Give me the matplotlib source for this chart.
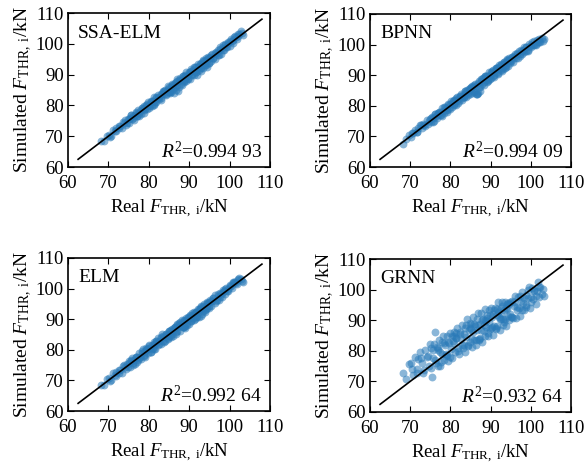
import numpy as np
import matplotlib
matplotlib.use('Agg')
import matplotlib.pyplot as plt

plt.rcParams['font.family'] = ['Liberation Serif', 'DejaVu Serif']
plt.rcParams['mathtext.fontset'] = 'custom'
plt.rcParams['mathtext.rm'] = 'Liberation Serif'
plt.rcParams['mathtext.it'] = 'Liberation Serif:italic'

# measured thrust (kN), shared test set
real_thrust = [
    68.1, 68.9, 69.6, 70.2, 70.7, 71.1, 71.6, 72.0, 72.5, 72.9, 73.3, 73.8, 74.2, 74.6, 74.9,
    75.2, 75.4, 75.7, 75.9, 76.1, 76.4, 76.6, 76.8, 77.1, 77.3, 77.5, 77.8, 78.0, 78.2, 78.5,
    78.7, 78.9, 79.1, 79.4, 79.6, 79.8, 80.1, 80.3, 80.5, 80.8, 81.0, 81.2, 81.5, 81.7, 81.9,
    82.2, 82.4, 82.6, 82.9, 83.1, 83.3, 83.6, 83.8, 84.0, 84.2, 84.5, 84.7, 84.9,
    85.1, 85.3, 85.5, 85.7, 85.9, 86.1, 86.3, 86.5, 86.7, 86.9, 87.1, 87.3, 87.5, 87.7, 87.9,
    88.1, 88.3, 88.5, 88.7, 88.9, 89.1, 89.3, 89.5, 89.7, 89.9, 90.1, 90.3, 90.5, 90.7, 90.9,
    91.1, 91.3, 91.5, 91.7, 91.9, 92.1, 92.3, 92.5, 92.7, 92.9, 93.1, 93.3, 93.5, 93.7, 93.9,
    94.1, 94.3, 94.5, 94.7, 94.9,
    95.2, 95.5, 95.7, 96.0, 96.3, 96.5, 96.8, 97.1, 97.3, 97.6, 97.9, 98.1, 98.4, 98.7, 98.9,
    99.2, 99.5, 99.7, 100.0, 100.3, 100.6, 100.9, 101.2, 101.5, 101.8, 102.1, 102.4, 102.7,
    103.0, 103.2,
    70.5, 71.8, 72.7, 73.5, 74.4, 75.1, 75.6, 76.2, 76.9, 77.6,
    78.3, 78.8, 79.5, 80.0, 80.6, 81.3, 81.8, 82.5, 83.0, 83.7,
    84.3, 84.8, 85.4, 85.8, 86.4, 86.8, 87.4, 87.8, 88.4, 88.8,
    89.4, 89.8, 90.4, 90.8, 91.4, 91.8, 92.4, 92.8, 93.4, 93.8,
    94.4, 94.8, 95.4, 95.9, 96.6, 97.2, 97.7, 98.3, 98.8, 99.4,
    100.1, 100.8, 101.4, 102.0, 77.0, 79.2, 81.4, 83.4, 85.2, 87.0,
    88.6, 90.2, 91.6, 93.0, 94.2, 95.0, 80.9, 84.9, 89.0, 92.6]

# prediction error (simulated - real) of each model, kN
err_ssa_elm = [
    0.3, -0.4, 0.6, 0.2, -0.5, 0.8, 0.1, -0.3, 0.9, 0.4, -0.6, 0.5, 1.0, -0.2, 0.7,
    -0.8, 0.4, 1.1, -0.3, 0.6, -1.0, 0.2, 0.9, -0.5, 1.3, -0.1, 0.5, -0.9, 0.8, 0.3,
    -1.2, 1.0, -0.4, 0.6, -0.7, 1.2, 0.1, -0.6, 0.9, -1.1, 0.4, 1.4, -0.3, 0.7, -0.9,
    0.2, 1.1, -0.5, 0.8, -1.3, 0.5, 1.2, -0.2, 0.9, -0.8, 0.3, 1.5, -0.6,
    1.0, -1.4, 0.4, 1.3, -0.7, 0.6, -2.2, 0.9, -1.8, 1.6, -0.4, -2.5, 0.7, 1.2, -1.0,
    0.3, -1.6, 1.1, -0.5, 0.8, -1.2, 1.4, 0.2, -0.9, 1.0, -1.5, 0.5, 1.3, -0.8, 0.6,
    -1.3, 1.1, -0.3, 0.9, -1.9, 0.4, 1.2, -1.1, 0.7, -1.6, 0.3, 1.0, -1.4, 0.6, -0.8,
    1.3, -1.7, 0.2, 0.9, -1.0,
    0.5, -1.2, 1.1, -0.6, 0.8, -1.4, 0.3, 1.0, -0.9, 0.6, -1.1, 0.4, 1.2, -0.7, 0.9,
    -0.3, 1.1, 0.5, -0.8, 1.3, 0.2, -0.6, 1.0, 0.7, -0.4, 1.2, 0.8, 1.5, 0.6, -0.5,
    -0.6, 0.8, -0.2, 1.0, -0.9, 0.5, 1.2, -0.4, 0.7, -1.0,
    0.9, -0.3, 1.1, -0.8, 0.4, -1.1, 0.8, 0.2, -0.7, 1.0,
    -0.5, 0.6, -1.2, 0.9, -0.3, 0.7, -1.3, 0.5, 1.1, -0.9,
    0.3, -1.2, 0.8, -0.6, 1.0, -1.0, 0.4, -0.8, 1.2, -0.4,
    0.7, -1.1, 0.9, -0.5, 0.6, -0.9, 1.1, -0.2, 0.8, -0.6,
    0.9, 0.4, 1.0, 0.6, -0.5, 0.7, -0.9, 1.0, -0.4, 0.8,
    -1.1, 0.6, -0.7, 0.9, -1.2, 0.3, 0.5, -0.7, 1.0, -0.3]

err_bpnn = [
    -0.6, 0.2, 0.7, -0.3, 0.5, 1.0, -0.2, 0.6, 1.1, 0.0, 0.8, -0.4, 1.2, 0.3, 0.9,
    -0.5, 1.1, 0.4, -0.9, 1.3, 0.2, -0.6, 0.8, 1.0, -0.3, 0.6, -1.0, 1.2, 0.1, -0.7,
    0.9, 0.4, -1.2, 1.1, -0.2, 0.7, 1.4, -0.8, 0.3, 1.0, -0.5, 0.8, -1.1, 1.3, 0.2,
    -0.6, 0.9, 1.1, -0.9, 0.5, -0.3, 1.2, -1.0, 0.6, 1.0, -0.4, 0.8, -1.2,
    0.7, 1.1, -0.8, 0.4, -1.3, 1.0, 0.2, -2.6, -3.0, -2.8, 0.9, -1.1, 1.3, 0.3, -0.7,
    1.0, -1.4, 0.6, 1.2, -0.5, 0.8, -1.0, 1.4, 0.1, -1.2, 0.9, 0.5, -0.8, 1.1, -1.5,
    0.4, 1.0, -0.6, 0.7, -1.3, 1.2, 0.2, -0.9, 0.8, -1.6, 0.5, 1.1, -1.0, 0.3, -0.7,
    0.9, -1.4, 0.6, 1.0, -0.4,
    0.8, -1.1, 0.5, 1.0, -0.6, 0.3, -1.2, 0.9, -0.4, 0.6, -1.0, 0.2, 0.8, -0.7, 0.4,
    -1.3, 0.6, -0.2, -0.9, 0.5, -0.6, 0.3, -1.1, 0.1, -0.8, -0.3, -1.4, -0.6, -1.8, -1.5,
    0.7, -0.5, 1.0, 0.3, -0.4, 0.9, -0.8, 1.1, 0.2, -0.6,
    1.2, -0.2, 0.8, -0.9, 1.0, 0.4, -1.0, 0.7, -0.3, 1.1,
    -0.7, 0.5, -1.1, 0.9, -2.4, 0.6, -2.7, 1.0, -0.5, 0.8,
    -1.2, 0.4, 0.9, -0.8, 1.1, -1.3, 0.6, -0.4, 0.9, -1.1,
    0.5, -0.9, 0.7, -0.4, 0.8, -1.0, 0.3, -0.7, 0.5, -1.2,
    -0.3, -0.9, -1.4, -1.0, 0.8, -0.6, 1.1, -0.4, 0.9, -0.7,
    1.0, -1.1, 0.6, -0.9, 1.2, -0.5, -0.6, 1.0, -1.2, 0.7]

err_elm = [
    0.4, -0.3, 0.9, 0.5, -0.6, 1.2, 0.2, -0.4, 1.0, 0.6, -0.8, 1.3, 0.1, 0.8, -0.5,
    1.1, -0.9, 0.6, 1.4, -0.4, 0.3, -1.2, 1.0, 0.5, -0.7, 1.3, 0.0, -1.0, 0.8, 1.6,
    -0.5, 0.4, -1.3, 1.1, 0.7, -0.8, 1.5, 0.2, -1.1, 0.9, -0.3, 1.2, -1.4, 0.6, 1.0,
    -0.6, 1.4, 0.3, -1.0, 0.8, 1.7, -0.7, 0.5, -1.2, 1.1, 0.2, -0.9, 1.3,
    -0.5, 0.9, -1.3, 1.2, 0.4, -1.6, 0.7, 1.0, -0.8, 1.4, -1.1, 0.3, 1.1, -1.5, 0.6,
    -0.4, 1.3, -1.0, 0.8, -1.8, 0.5, 1.2, -0.7, 0.9, -1.4, 0.2, 1.0, -1.2, 0.7, -0.5,
    1.3, -1.6, 0.4, 0.8, -1.1, 1.1, -0.3, -1.7, 0.6, 1.0, -1.3, 0.5, -0.8, 1.2, -1.5,
    0.3, 0.9, -1.0, 0.6, -0.6,
    1.0, -1.2, 0.4, 0.8, -0.9, 1.3, -0.5, 0.6, -1.1, 0.9, 0.2, -0.8, 1.1, 0.5, -0.6,
    1.0, 0.3, -0.4, 1.2, 0.7, -0.3, 0.9, 1.1, 0.4, -0.2, 0.8, 1.0, 0.5, -0.4, -0.9,
    -0.7, 1.0, -0.2, 1.3, -0.8, 0.6, 1.1, -1.1, 0.9, -0.4,
    1.4, -0.9, 0.7, 1.2, -1.2, 0.5, 1.0, -0.6, 1.3, -1.0,
    0.8, -1.3, 1.1, -0.5, 0.9, -1.5, 0.6, 1.2, -0.8, 1.0,
    -1.4, 0.7, -0.9, 1.1, -1.2, 0.4, 1.0, -1.6, 0.8, -0.7,
    1.2, -1.1, 0.5, 0.9, -0.8, 1.1, -0.5, 0.7, 1.0, -0.3,
    0.8, 1.2, 0.6, 1.0, -1.0, 0.8, -1.2, 1.0, -0.6, 1.1,
    -1.3, 0.7, -0.9, 1.2, -1.0, 0.5, -0.8, 1.3, -1.1, 0.6]

err_grnn = [
    4.5, 2.0, 6.0, 5.8, 1.5, 6.9, 2.3, 5.2, 7.0, 3.2, -0.5, 6.4, 3.9, 0.5, 7.2,
    5.6, -3.8, 2.1, 6.2, 10.0, -0.4, 4.5, -1.8, 6.3, 2.4, -2.4, 5.0, 1.0, 6.8, -1.5,
    3.3, -0.6, 5.9, -2.6, 2.8, 6.1, 0.4, 4.4, -3.0, 1.9, 5.2, -1.7, 2.6, 5.8, -0.9,
    -3.4, 3.9, 1.3, 5.5, -2.2, 2.2, -4.0, 4.6, 0.5, 6.2, -2.8, 2.0, 4.3,
    3.6, -3.9, 0.8, 5.3, -2.5, 1.9, -4.4, 3.9, 0.2, 5.6, -3.2, 1.4, -0.6, 4.6, -4.9,
    2.3, 0.0, -3.7, 4.8, -1.1, 1.7, -4.5, 3.7, -0.4, -2.9, 3.9, 0.6, -5.2, 1.2, -2.7,
    2.9, -4.1, 0.3, -3.5, 4.2, -0.9, -5.4, 1.5, -2.4, 3.2, -4.6, 0.1, -3.2, 2.4, -5.8,
    -0.6, 1.4, -4.3, 0.7, -2.9,
    1.2, -4.8, -1.0, 2.0, -5.5, -2.1, 0.8, -3.2, -6.0, -1.3, 1.4, -2.6, -5.1, -0.5, -4.5,
    -1.8, 1.5, -5.6, -2.4, 0.3, -3.8, -1.1, -6.0, -2.0, 0.7, -4.4, -1.5, -4.0, -2.8, -5.4,
    3.5, 1.0, 4.8, 0.2, 3.9, -0.8, 4.6, 0.9, 3.2, -1.4,
    4.2, 0.0, 3.5, -2.0, 2.6, 4.4, -1.8, 2.9, -1.0, 3.6,
    -2.3, 2.5, -1.6, 3.0, -2.8, 1.6, -3.2, 2.2, -1.9, 1.0,
    -3.6, 1.8, -2.6, 2.6, -3.8, 0.8, -2.0, 1.9, -4.0, 0.3,
    -3.0, 1.1, -4.2, 0.0, -3.4, 0.6, -4.5, -1.0, -3.9, 0.4,
    -4.0, -1.4, -3.6, -1.0, 3.9, -0.6, 2.8, -1.5, 2.0, -3.4,
    1.5, -2.6, 2.0, -2.6, 1.0, -3.8, 4.0, -2.0, 2.6, -0.2]

model_names = ['SSA-ELM', 'BPNN', 'ELM', 'GRNN']
r2_labels = ['0.994 93', '0.994 09', '0.992 64', '0.932 64']
model_errors = [err_ssa_elm, err_bpnn, err_elm, err_grnn]

diag = [62.5, 108.0]
ticks = [60, 70, 80, 90, 100, 110]

# axes boxes in pixels: left, top, right, bottom
boxes = [(68, 13, 270, 167), (370, 14, 571, 167),
         (68, 258, 270, 411), (370, 259, 571, 412)]

W, H = 587, 466
fig = plt.figure(figsize=(W / 100, H / 100), dpi=100)

real = np.array(real_thrust)
for name, r2, err, (l, t, r, b) in zip(model_names, r2_labels, model_errors, boxes):
    ax = fig.add_axes([l / W, 1 - b / H, (r - l) / W, (b - t) / H])
    sim = real + np.array(err)
    ax.scatter(real, sim, s=32, color='#2a7ab8', alpha=0.55, linewidths=0, zorder=2)
    ax.plot(diag, diag, color='black', lw=1.2, zorder=3)

    ax.set_xlim(60, 110)
    ax.set_ylim(60, 110)
    ax.set_xticks(ticks)
    ax.set_yticks(ticks)
    ax.tick_params(direction='in', top=True, right=True, length=4, width=0.8,
                   labelsize=13.5)
    ax.tick_params(axis='x', pad=6)
    ax.tick_params(axis='y', pad=3)
    for sp in ax.spines.values():
        sp.set_linewidth(1.2)

    ax.set_xlabel(r'Real $F_{\mathrm{THR,\ i}}$/kN', fontsize=13.5, labelpad=4)
    ax.set_ylabel(r'Simulated $F_{\mathrm{THR,\ i}}$/kN', fontsize=14, labelpad=1)

    ax.text(0.05, 0.87, name, transform=ax.transAxes, fontsize=14, va='center', ha='left')
    ax.text(0.96, 0.10, r'$R^2$=' + r2, transform=ax.transAxes, fontsize=14,
            va='center', ha='right')

fig.savefig('out.png', dpi=100)
